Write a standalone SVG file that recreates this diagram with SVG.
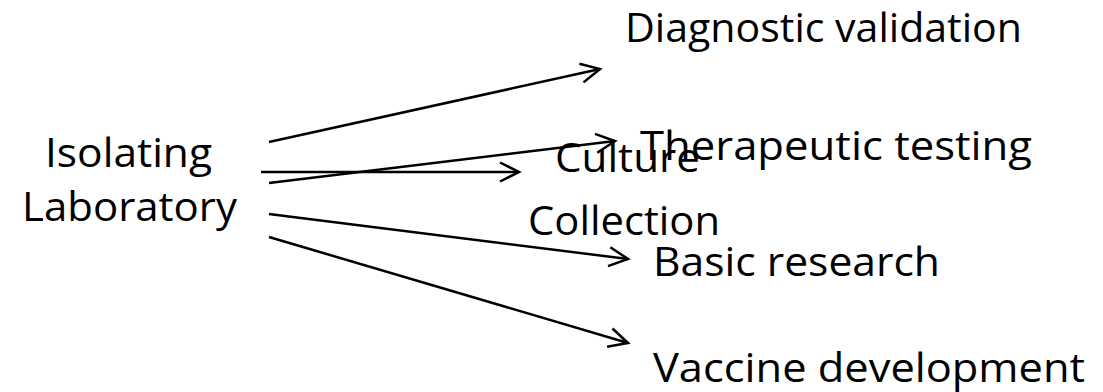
<svg xmlns="http://www.w3.org/2000/svg" width="1103" height="392" viewBox="0 0 1103 392">
<style>
.t{font-family:"Open Sans","Noto Sans",sans-serif;font-size:41px;fill:#000}
.c{stroke:#000;stroke-width:2.5;fill:none;marker-end:url(#ah)}
</style>
<defs>
<marker id="ah" markerUnits="userSpaceOnUse" viewBox="-22 -12 26 24" refX="0" refY="0" markerWidth="26" markerHeight="24" orient="auto" overflow="visible">
<path d="M-19,-9.5 L0,0 L-19,9.5" fill="none" stroke="#000" stroke-width="2.5"/>
</marker>
</defs>
<rect width="1103" height="392" fill="#fff"/>
<g id="connectors">
<line class="c" x1="269" y1="142" x2="600" y2="69"/>
<line class="c" x1="261" y1="172" x2="519" y2="172"/>
<line class="c" x1="269" y1="183" x2="615" y2="141"/>
<line class="c" x1="269" y1="214" x2="628" y2="259"/>
<line class="c" x1="269" y1="237" x2="628" y2="343"/>
</g>
<g id="isolating-lab">
<text class="t" x="45" y="167" textLength="167" lengthAdjust="spacingAndGlyphs">Isolating</text>
<text class="t" x="22" y="221" textLength="215" lengthAdjust="spacingAndGlyphs">Laboratory</text>
</g>
<g id="culture-collection">
<text class="t" x="555" y="172" textLength="145" lengthAdjust="spacingAndGlyphs">Culture</text>
<text class="t" x="528" y="235" textLength="192" lengthAdjust="spacingAndGlyphs">Collection</text>
</g>
<g id="diagnostic">
<text class="t" x="625" y="42" textLength="397" lengthAdjust="spacingAndGlyphs">Diagnostic validation</text>
</g>
<g id="therapeutic">
<text class="t" x="640" y="160" textLength="392" lengthAdjust="spacingAndGlyphs">Therapeutic testing</text>
</g>
<g id="basic">
<text class="t" x="653" y="276" textLength="287" lengthAdjust="spacingAndGlyphs">Basic research</text>
</g>
<g id="vaccine">
<text class="t" x="653" y="382" textLength="432" lengthAdjust="spacingAndGlyphs">Vaccine development</text>
</g>
</svg>
